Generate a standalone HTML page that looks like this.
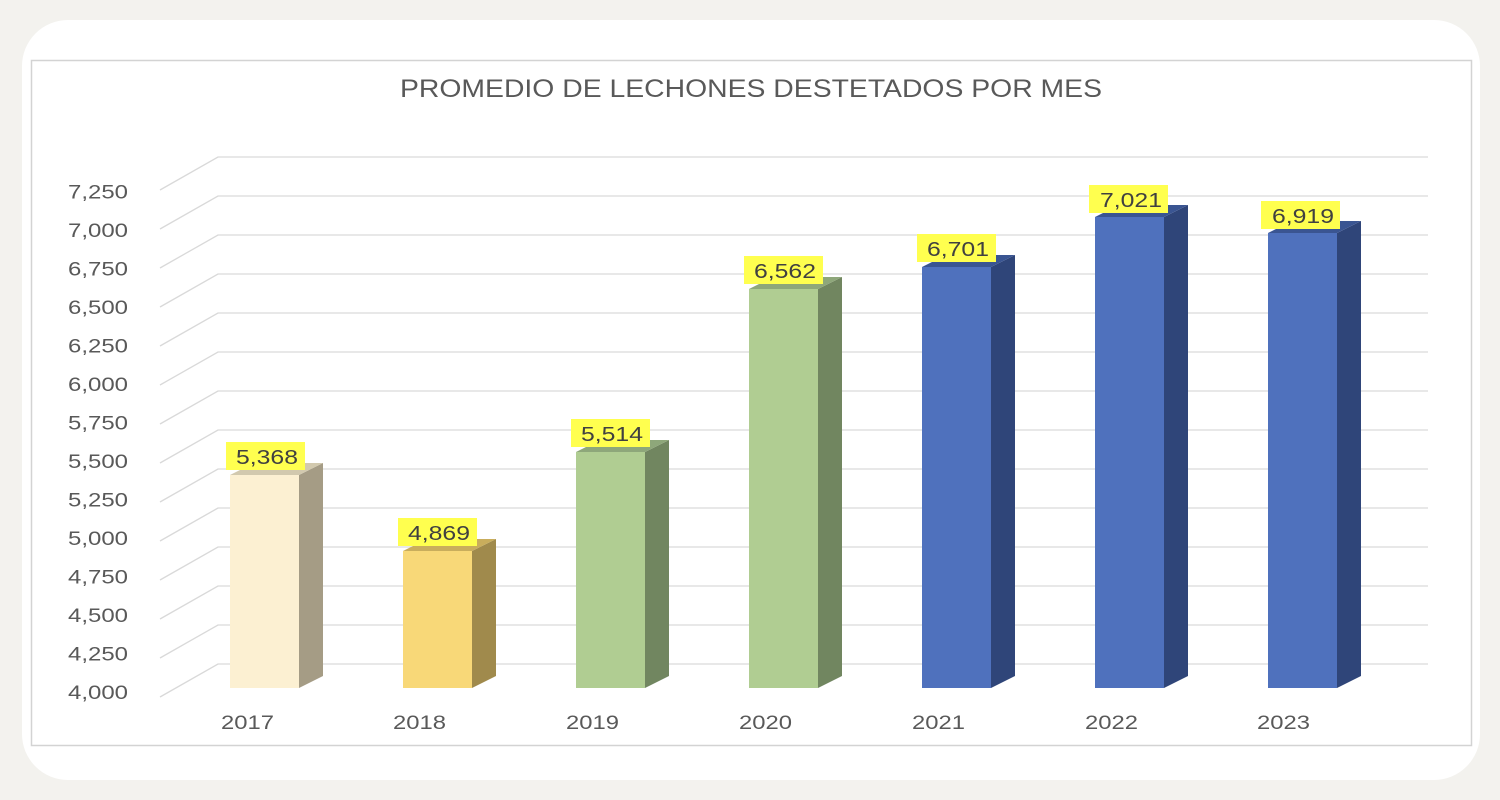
<!DOCTYPE html>
<html><head><meta charset="utf-8"><style>
html,body{margin:0;padding:0;background:#f3f2ee;}
svg{display:block;font-family:"Liberation Sans","DejaVu Sans",sans-serif;}
</style></head><body>
<svg width="1500" height="800" viewBox="0 0 1500 800" xmlns="http://www.w3.org/2000/svg">
<rect x="0" y="0" width="1500" height="800" fill="#f3f2ee"/>
<rect x="22" y="20" width="1458" height="760" rx="46" fill="#ffffff"/>
<rect x="31.5" y="60.5" width="1440" height="685" fill="none" stroke="#d3d3d3" stroke-width="1.5"/>
<text x="400" y="97" font-size="25" fill="#595959" textLength="702" lengthAdjust="spacingAndGlyphs">PROMEDIO DE LECHONES DESTETADOS POR MES</text>
<g stroke="#d9d9d9" stroke-width="1.3" fill="none">
<path d="M160 697 L218 664 L1428 664"/>
<path d="M160 658 L218 625 L1428 625"/>
<path d="M160 619 L218 586 L1428 586"/>
<path d="M160 580 L218 547 L1428 547"/>
<path d="M160 541 L218 508 L1428 508"/>
<path d="M160 502 L218 469 L1428 469"/>
<path d="M160 463 L218 430 L1428 430"/>
<path d="M160 424 L218 391 L1428 391"/>
<path d="M160 385 L218 352 L1428 352"/>
<path d="M160 346 L218 313 L1428 313"/>
<path d="M160 307 L218 274 L1428 274"/>
<path d="M160 268 L218 235 L1428 235"/>
<path d="M160 229 L218 196 L1428 196"/>
<path d="M160 190 L218 157 L1428 157"/>
</g>
<g font-size="19" fill="#595959">
<text x="68" y="699" textLength="60" lengthAdjust="spacingAndGlyphs">4,000</text>
<text x="68" y="660.5" textLength="60" lengthAdjust="spacingAndGlyphs">4,250</text>
<text x="68" y="622" textLength="60" lengthAdjust="spacingAndGlyphs">4,500</text>
<text x="68" y="583.5" textLength="60" lengthAdjust="spacingAndGlyphs">4,750</text>
<text x="68" y="545" textLength="60" lengthAdjust="spacingAndGlyphs">5,000</text>
<text x="68" y="506.5" textLength="60" lengthAdjust="spacingAndGlyphs">5,250</text>
<text x="68" y="468" textLength="60" lengthAdjust="spacingAndGlyphs">5,500</text>
<text x="68" y="429.5" textLength="60" lengthAdjust="spacingAndGlyphs">5,750</text>
<text x="68" y="391" textLength="60" lengthAdjust="spacingAndGlyphs">6,000</text>
<text x="68" y="352.5" textLength="60" lengthAdjust="spacingAndGlyphs">6,250</text>
<text x="68" y="314" textLength="60" lengthAdjust="spacingAndGlyphs">6,500</text>
<text x="68" y="275.5" textLength="60" lengthAdjust="spacingAndGlyphs">6,750</text>
<text x="68" y="237" textLength="60" lengthAdjust="spacingAndGlyphs">7,000</text>
<text x="68" y="198.5" textLength="60" lengthAdjust="spacingAndGlyphs">7,250</text>
</g>
<g>
<polygon points="299,475 323,463 323,676 299,688" fill="#a59c85"/>
<polygon points="230,475 254,463 323,463 299,475" fill="#d2c9ae"/>
<rect x="230" y="475" width="69" height="213" fill="#fcf0d2"/>
<polygon points="472,551 496,539 496,676 472,688" fill="#a08a4c"/>
<polygon points="403,551 427,539 496,539 472,551" fill="#c9ad5c"/>
<rect x="403" y="551" width="69" height="137" fill="#f8d878"/>
<polygon points="645,452 669,440 669,676 645,688" fill="#718660"/>
<polygon points="576,452 600,440 669,440 645,452" fill="#8ea77a"/>
<rect x="576" y="452" width="69" height="236" fill="#b0cd92"/>
<polygon points="818,289 842,277 842,676 818,688" fill="#718660"/>
<polygon points="749,289 773,277 842,277 818,289" fill="#8ea77a"/>
<rect x="749" y="289" width="69" height="399" fill="#b0cd92"/>
<polygon points="991,267 1015,255 1015,676 991,688" fill="#2f4579"/>
<polygon points="922,267 946,255 1015,255 991,267" fill="#3a5592"/>
<rect x="922" y="267" width="69" height="421" fill="#4f71bd"/>
<polygon points="1164,217 1188,205 1188,676 1164,688" fill="#2f4579"/>
<polygon points="1095,217 1119,205 1188,205 1164,217" fill="#3a5592"/>
<rect x="1095" y="217" width="69" height="471" fill="#4f71bd"/>
<polygon points="1337,233 1361,221 1361,676 1337,688" fill="#2f4579"/>
<polygon points="1268,233 1292,221 1361,221 1337,233" fill="#3a5592"/>
<rect x="1268" y="233" width="69" height="455" fill="#4f71bd"/>
</g>
<g fill="#ffff4f">
<rect x="226" y="442" width="79" height="28"/>
<rect x="398" y="518" width="79" height="28"/>
<rect x="571" y="419" width="79" height="28"/>
<rect x="744" y="256" width="79" height="28"/>
<rect x="917" y="234" width="79" height="28"/>
<rect x="1089" y="185" width="79" height="28"/>
<rect x="1261" y="201" width="79" height="28"/>
</g>
<g font-size="20" fill="#404040">
<text x="236" y="464" textLength="62" lengthAdjust="spacingAndGlyphs">5,368</text>
<text x="408" y="540" textLength="62" lengthAdjust="spacingAndGlyphs">4,869</text>
<text x="581" y="441" textLength="62" lengthAdjust="spacingAndGlyphs">5,514</text>
<text x="754" y="278" textLength="62" lengthAdjust="spacingAndGlyphs">6,562</text>
<text x="927" y="256" textLength="62" lengthAdjust="spacingAndGlyphs">6,701</text>
<text x="1100" y="207" textLength="62" lengthAdjust="spacingAndGlyphs">7,021</text>
<text x="1272" y="223" textLength="62" lengthAdjust="spacingAndGlyphs">6,919</text>
</g>
<g font-size="19" fill="#595959">
<text x="221" y="729" textLength="53" lengthAdjust="spacingAndGlyphs">2017</text>
<text x="393" y="729" textLength="53" lengthAdjust="spacingAndGlyphs">2018</text>
<text x="566" y="729" textLength="53" lengthAdjust="spacingAndGlyphs">2019</text>
<text x="739" y="729" textLength="53" lengthAdjust="spacingAndGlyphs">2020</text>
<text x="912" y="729" textLength="53" lengthAdjust="spacingAndGlyphs">2021</text>
<text x="1085" y="729" textLength="53" lengthAdjust="spacingAndGlyphs">2022</text>
<text x="1257" y="729" textLength="53" lengthAdjust="spacingAndGlyphs">2023</text>
</g>
</svg>
</body></html>
